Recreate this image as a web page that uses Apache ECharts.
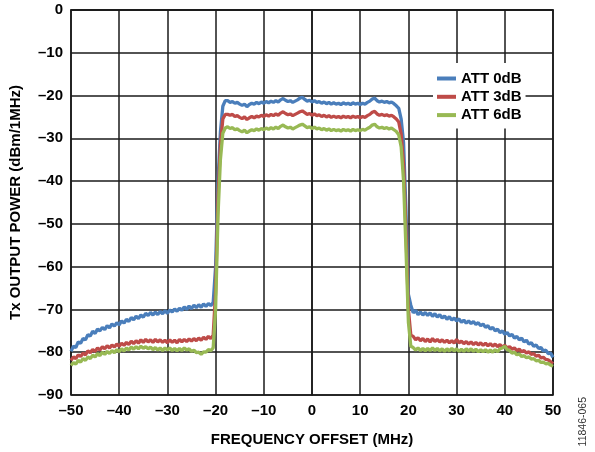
<!DOCTYPE html>
<html>
<head>
<meta charset="utf-8">
<script src="https://cdn.jsdelivr.net/npm/echarts@6/dist/echarts.min.js"></script>
<style>html,body{margin:0;padding:0;background:#fff}#c{width:595px;height:452px}</style>
</head>
<body>
<div id="c"></div>
<script>
const seriesNames = ['ATT 0dB', 'ATT 3dB', 'ATT 6dB'];
const xTicks = [-50, -40, -30, -20, -10, 0, 10, 20, 30, 40, 50];
const yTicks = [-90, -80, -70, -60, -50, -40, -30, -20, -10, 0];

const freq = [
-50,-49.5,-49,-48.5,-48,-47.5,-47,-46.5,-46,-45.5,-45,-44.5,-44,-43.5,-43,-42.5,-42,-41.5,-41,-40.5,
-40,-39.5,-39,-38.5,-38,-37.5,-37,-36.5,-36,-35.5,-35,-34.5,-34,-33.5,-33,-32.5,-32,-31.5,-31,-30.5,
-30,-29.5,-29,-28.5,-28,-27.5,-27,-26.5,-26,-25.5,-25,-24.5,-24,-23.5,-23,-22.5,-22,-21.5,-21,-20.5,
-20,-19.5,-19,-18.5,-18,
-17.5,-17,-16.5,-16,-15.5,-15,-14.5,-14,-13.5,-13,-12.5,-12,-11.5,-11,-10.5,-10,-9.5,-9,-8.5,-8,
-7.5,-7,-6.5,-6,-5.5,-5,-4.5,-4,-3.5,-3,-2.5,-2,-1.5,-1,-0.5,0,0.5,1,1.5,2,2.5,3,3.5,4,4.5,5,5.5,6,6.5,7,7.5,8,8.5,9,9.5,10,
10.5,11,11.5,12,12.5,13,13.5,14,14.5,15,15.5,16,16.5,17,17.5,
18,18.5,19,19.5,20,20.5,
21,21.5,22,22.5,23,23.5,24,24.5,25,25.5,26,26.5,27,27.5,28,28.5,29,29.5,30,30.5,
31,31.5,32,32.5,33,33.5,34,34.5,35,35.5,36,36.5,37,37.5,38,38.5,39,39.5,40,40.5,
41,41.5,42,42.5,43,43.5,44,44.5,45,45.5,46,46.5,47,47.5,48,48.5,49,49.5,50
];

const att0 = [
-79.8,-78.6,-78.9,-77.6,-77.9,-76.8,-77.1,-75.9,-76.2,-75.1,-75.6,-74.6,-75.0,-74.2,-74.7,-73.8,-74.3,-73.4,-73.9,-73.1,
-73.6,-72.7,-73.2,-72.3,-72.8,-71.9,-72.4,-71.6,-72.1,-71.3,-71.8,-70.9,-71.4,-70.7,-71.3,-70.6,-71.2,-70.5,-71.0,-70.3,
-70.9,-70.1,-70.6,-69.9,-70.4,-69.7,-70.2,-69.4,-70.0,-69.2,-69.8,-69.0,-69.6,-68.9,-69.5,-68.7,-69.3,-68.6,-69.1,-68.4,
-60.0,-40.0,-28.5,-22.5,-21.2,
-21.2,-21.6,-21.4,-21.8,-21.6,-22.0,-22.3,-22.0,-22.6,-22.1,-21.8,-22.0,-21.6,-21.9,-21.5,-21.8,-21.4,-21.7,-21.3,-21.6,
-21.2,-21.5,-21.0,-20.7,-21.1,-21.4,-21.2,-21.6,-21.3,-21.0,-20.6,-20.4,-20.9,-21.3,-21.1,-21.5,-21.2,-21.6,-21.4,-21.8,-21.5,-21.9,-21.6,-22.0,-21.7,-22.0,-21.8,-22.1,-21.7,-22.0,-21.8,-22.1,-21.7,-22.0,-21.8,-22.1,
-21.8,-22.0,-21.6,-21.3,-20.8,-20.6,-21.2,-21.5,-21.3,-21.6,-21.4,-21.7,-21.5,-21.9,-22.4,
-23.0,-25.5,-31.0,-47.0,-66.5,-69.0,
-70.8,-70.2,-71.2,-70.6,-71.3,-70.7,-71.4,-70.8,-71.6,-71.0,-71.8,-71.2,-72.0,-71.5,-72.3,-71.7,-72.5,-72.0,-72.7,-72.2,
-73.0,-72.5,-73.2,-72.7,-73.3,-72.8,-73.5,-73.1,-73.8,-73.4,-74.2,-73.8,-74.6,-74.2,-75.0,-74.6,-75.4,-75.0,-75.8,-75.4,
-76.2,-75.8,-76.7,-76.3,-77.1,-76.7,-77.6,-77.2,-78.1,-77.8,-78.6,-78.3,-79.1,-78.9,-79.7,-79.5,-80.3,-80.2,-81.2
];

const att3 = [
-81.9,-81.1,-81.5,-80.6,-81.0,-80.2,-80.6,-79.7,-80.1,-79.4,-79.8,-79.0,-79.5,-78.7,-79.2,-78.5,-79.0,-78.3,-78.8,-78.1,
-78.6,-77.9,-78.4,-77.7,-78.2,-77.4,-78.0,-77.3,-77.9,-77.1,-77.7,-77.0,-77.6,-77.1,-77.7,-77.0,-77.6,-77.1,-77.7,-77.2,
-77.8,-77.1,-77.7,-77.2,-77.8,-77.0,-77.6,-77.0,-77.5,-76.9,-77.4,-76.8,-77.3,-76.7,-77.2,-76.5,-77.0,-76.3,-76.8,-76.0,
-66.0,-44.0,-31.5,-25.5,-24.4,
-24.4,-24.6,-24.4,-24.9,-24.7,-25.1,-25.4,-25.0,-25.6,-25.2,-24.9,-25.2,-24.8,-25.0,-24.6,-24.9,-24.5,-24.8,-24.4,-24.7,
-24.3,-24.6,-24.1,-23.8,-24.2,-24.5,-24.3,-24.7,-24.4,-24.1,-23.8,-23.6,-24.0,-24.4,-24.2,-24.6,-24.3,-24.7,-24.5,-24.9,-24.6,-25.0,-24.7,-25.1,-24.8,-25.1,-24.9,-25.2,-24.8,-25.1,-24.9,-25.2,-24.8,-25.1,-24.9,-25.2,
-24.9,-25.1,-24.7,-24.4,-23.9,-23.7,-24.3,-24.6,-24.4,-24.7,-24.5,-24.8,-24.6,-25.0,-25.5,
-26.2,-29.0,-36.0,-52.0,-70.0,-76.0,
-76.3,-77.1,-76.6,-77.3,-76.8,-77.5,-76.9,-77.6,-76.8,-77.5,-77.0,-77.6,-77.1,-77.7,-77.2,-77.8,-77.3,-77.9,-77.0,-77.8,
-77.4,-78.0,-77.5,-78.1,-77.6,-78.2,-77.7,-78.3,-77.8,-78.4,-77.9,-78.5,-78.0,-78.6,-78.1,-78.7,-78.2,-78.8,-78.4,-79.0,
-78.7,-79.3,-79.0,-79.6,-79.3,-79.9,-79.6,-80.2,-79.9,-80.5,-80.3,-80.9,-80.7,-81.3,-81.2,-81.7,-81.8,-82.2,-82.7
];

const att6 = [
-83.1,-82.4,-82.8,-81.9,-82.3,-81.5,-81.9,-81.1,-81.5,-80.7,-81.1,-80.3,-80.8,-80.0,-80.5,-79.8,-80.3,-79.6,-80.1,-79.4,
-79.9,-79.2,-79.7,-79.0,-79.5,-78.8,-79.3,-78.7,-79.2,-78.6,-79.1,-78.7,-79.2,-78.8,-79.4,-78.9,-79.5,-79.0,-79.6,-79.0,
-79.5,-79.0,-79.6,-79.1,-79.7,-79.1,-79.6,-79.0,-79.5,-79.2,-79.8,-79.5,-80.1,-80.0,-80.5,-79.9,-80.0,-79.4,-79.6,-79.0,
-70.0,-48.0,-35.0,-28.8,-27.6,
-27.3,-27.7,-27.5,-28.0,-27.8,-28.2,-28.5,-28.1,-28.7,-28.3,-28.0,-28.2,-27.8,-28.1,-27.7,-28.0,-27.6,-27.9,-27.5,-27.8,
-27.4,-27.7,-27.2,-26.9,-27.3,-27.6,-27.4,-27.8,-27.5,-27.2,-26.9,-26.7,-27.1,-27.5,-27.3,-27.7,-27.4,-27.8,-27.6,-28.0,-27.7,-28.1,-27.8,-28.2,-27.9,-28.2,-28.0,-28.3,-27.9,-28.2,-28.0,-28.3,-27.9,-28.2,-28.0,-28.2,
-27.9,-28.1,-27.7,-27.4,-26.9,-26.7,-27.3,-27.6,-27.4,-27.7,-27.5,-27.8,-27.6,-28.0,-28.4,
-29.2,-32.0,-40.0,-56.0,-73.0,-78.6,
-78.9,-79.5,-79.0,-79.6,-79.1,-79.7,-79.1,-79.6,-79.0,-79.6,-79.1,-79.7,-79.2,-79.8,-79.2,-79.7,-79.1,-79.7,-79.2,-79.8,
-79.3,-79.8,-79.2,-79.7,-79.2,-79.8,-79.3,-79.9,-79.4,-79.9,-79.4,-80.0,-79.5,-80.0,-79.4,-79.9,-79.2,-79.0,-78.6,-79.4,
-79.6,-80.2,-80.0,-80.6,-80.4,-81.0,-80.8,-81.3,-81.1,-81.6,-81.5,-82.0,-81.9,-82.4,-82.3,-82.7,-82.6,-83.0,-83.3
];

const colors = ['#4a7ebb', '#be4b48', '#98b954'];
const FONT = '"Liberation Sans", Arial, Helvetica, sans-serif';

function pairs(ys) { return freq.map((f, i) => [f, ys[i]]); }
function dash(v) { return v < 0 ? '\u2013' + Math.abs(v) : String(v); }

const chart = echarts.init(document.getElementById('c'), null, { renderer: 'canvas' });
const allSeries = [att0, att3, att6].map((ys, k) => ({
  name: seriesNames[k],
  type: 'line',
  data: pairs(ys),
  showSymbol: false,
  symbol: 'none',
  animation: false,
  lineStyle: { color: colors[k], width: 3.3 },
  itemStyle: { color: colors[k] },
  z: 2 + k
}));

chart.setOption({
  animation: false,
  backgroundColor: '#ffffff',
  textStyle: { fontFamily: FONT },
  grid: { left: 71, right: 42, top: 10, bottom: 57, show: true, borderColor: '#1a1a1a', borderWidth: 1.6, backgroundColor: 'transparent' },
  legend: {
    data: seriesNames,
    orient: 'vertical',
    left: 433, top: 63,
    padding: [8, 4, 6, 4],
    itemGap: 3.3,
    itemWidth: 19, itemHeight: 4,
    icon: 'rect',
    backgroundColor: '#ffffff',
    z: 10,
    textStyle: { fontFamily: FONT, fontSize: 15, fontWeight: 'bold', color: '#000', lineHeight: 13 }
  },
  xAxis: {
    type: 'value', min: xTicks[0], max: xTicks[xTicks.length - 1], interval: 10,
    name: 'FREQUENCY OFFSET (MHz)', nameLocation: 'middle', nameGap: 37,
    nameTextStyle: { fontFamily: FONT, fontSize: 15, fontWeight: 'bold', color: '#000' },
    axisLine: { show: true, lineStyle: { color: '#1a1a1a', width: 1.6 } },
    axisTick: { show: false },
    axisLabel: { margin: 8, fontFamily: FONT, fontSize: 15, fontWeight: 'bold', color: '#000', formatter: dash },
    splitLine: { show: true, lineStyle: { color: '#1a1a1a', width: 1.5 } }
  },
  yAxis: {
    type: 'value', min: yTicks[0], max: yTicks[yTicks.length - 1], interval: 10,
    name: 'Tx OUTPUT POWER (dBm/1MHz)', nameLocation: 'middle', nameGap: 48, nameRotate: 90,
    nameTextStyle: { fontFamily: FONT, fontSize: 15, fontWeight: 'bold', color: '#000' },
    axisLine: { show: true, lineStyle: { color: '#1a1a1a', width: 1.6 } },
    axisTick: { show: false },
    axisLabel: { margin: 8, fontFamily: FONT, fontSize: 15, fontWeight: 'bold', color: '#000', formatter: dash },
    splitLine: { show: true, lineStyle: { color: '#1a1a1a', width: 1.5 } }
  },
  graphic: [{
    type: 'text', left: 578, top: 397, rotation: Math.PI / 2,
    style: { text: '11846-065', fontFamily: FONT, fontSize: 10.5, fill: '#333' }
  }],
  series: allSeries
});
</script>
</body>
</html>
